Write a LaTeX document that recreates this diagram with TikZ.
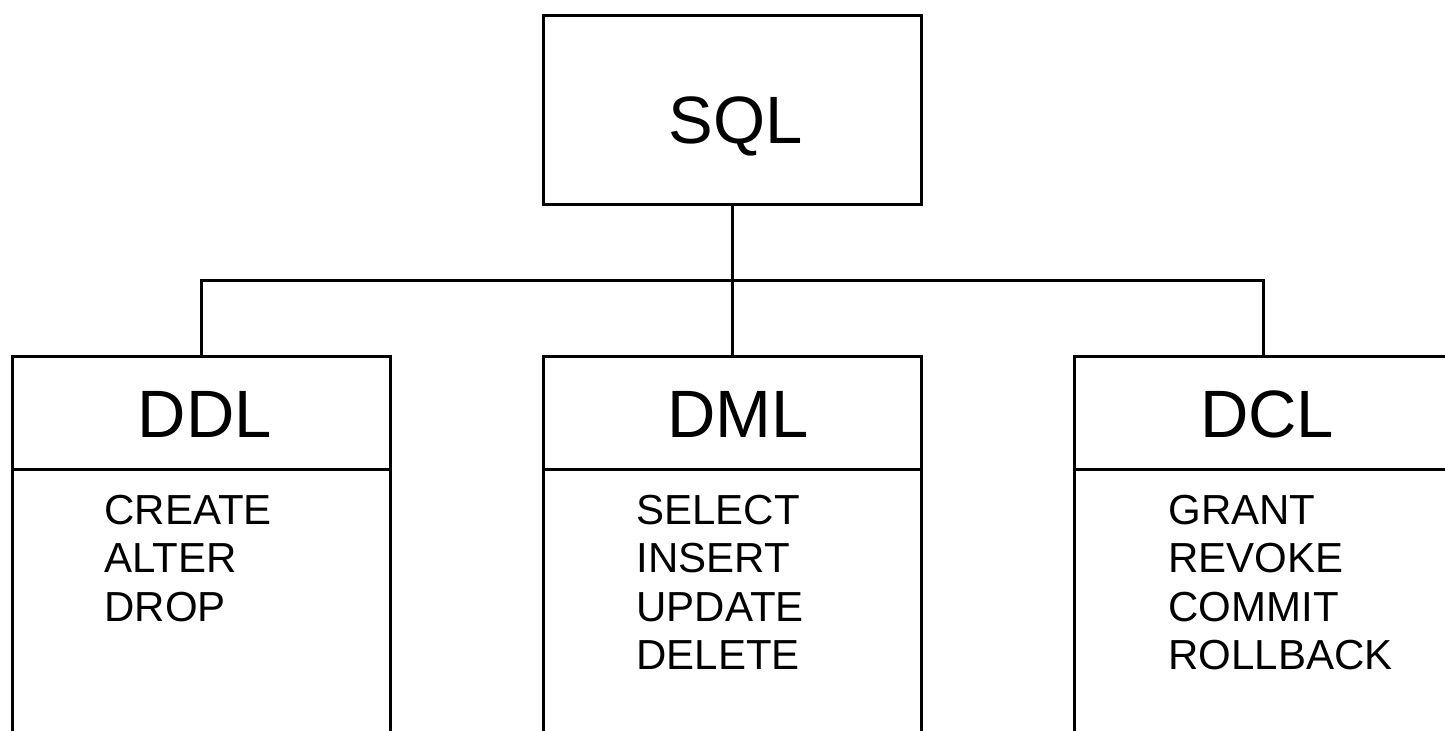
\documentclass[tikz,border=0pt]{standalone}
\usepackage{fontspec}
\setmainfont{Liberation Sans}
\begin{document}
\begin{tikzpicture}[x=0.5pt,y=-0.5pt, line width=1.5pt,
  box/.style={draw=black, rectangle, inner sep=0pt, anchor=north west, minimum width=189pt},
  headbox/.style={box, minimum height=56.5pt},
  bodybox/.style={box, minimum height=170pt},
  headtext/.style={font=\fontsize{33.5}{40}\selectfont, anchor=base, inner sep=0pt},
  itemtext/.style={font=\fontsize{21}{24}\selectfont, anchor=base west, inner sep=0pt}]
\useasboundingbox (0,0) rectangle (1445,730);
\clip (0,0) rectangle (1445,730);

% top box
\node[box, minimum width=189pt, minimum height=94.5pt] (sql) at (542,14) {};
\node[headtext] (sqlt) at (736,143) {SQL};

% lower boxes
\node[headbox] (ddlh) at (11,355) {};
\node[bodybox] (ddlb) at (11,468) {};
\node[headbox] (dmlh) at (542,355) {};
\node[bodybox] (dmlb) at (542,468) {};
\node[headbox] (dclh) at (1073,355) {};
\node[bodybox] (dclb) at (1073,468) {};

\node[headtext] (ddlt) at (205,437) {DDL};
\node[headtext] (dmlt) at (738,437) {DML};
\node[headtext] (dclt) at (1267,437) {DCL};

% items
\node[itemtext] (c1) at (103,524) {CREATE};
\node[itemtext] (c2) at (103,572.5) {ALTER};
\node[itemtext] (c3) at (103,621) {DROP};

\node[itemtext] (m1) at (635,524) {SELECT};
\node[itemtext] (m2) at (635,572.5) {INSERT};
\node[itemtext] (m3) at (635,621) {UPDATE};
\node[itemtext] (m4) at (635,669.5) {DELETE};

\node[itemtext] (g1) at (1167,524) {GRANT};
\node[itemtext] (g2) at (1167,572.5) {REVOKE};
\node[itemtext] (g3) at (1167,621) {COMMIT};
\node[itemtext] (g4) at (1167,669.5) {ROLLBACK};

% connectors
\coordinate (bus) at (sql.south |- 0,280);
\draw (sql.south) -- (bus);
\draw (ddlh.north) |- (bus) -| (dclh.north);
\draw (dmlh.north) -- (dmlh.north |- bus);
\end{tikzpicture}
\end{document}
